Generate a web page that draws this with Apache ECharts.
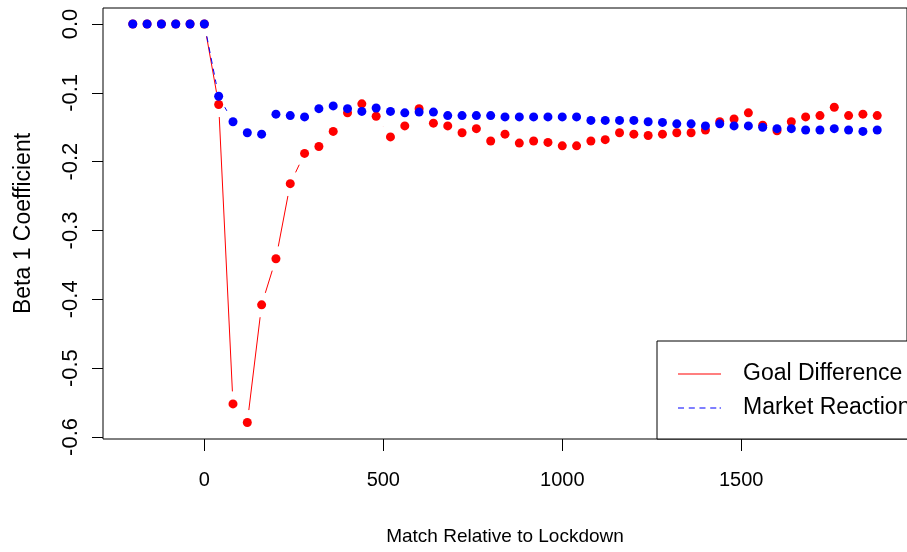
<!DOCTYPE html>
<html><head><meta charset="utf-8">
<script src="https://cdn.jsdelivr.net/npm/echarts@6/dist/echarts.min.js"></script>
<style>html,body{margin:0;padding:0;background:#fff}#c{width:907px;height:552px}</style>
</head><body><div id="c"></div>
<script>
// ---- data ----
const matchRel = [-200,-160,-120,-80,-40,0,40,80,120,160,200,240,280,320,360,400,440,480,520,560,600,640,680,720,760,800,840,880,920,960,1000,1040,1080,1120,1160,1200,1240,1280,1320,1360,1400,1440,1480,1520,1560,1600,1640,1680,1720,1760,1800,1840,1880];
const goalDiff = [0,0,0,0,0,0,
  -0.117,-0.552,-0.579,-0.408,-0.341,-0.232,-0.188,-0.178,-0.156,-0.129,
  -0.116,-0.134,-0.164,-0.148,-0.123,-0.144,-0.148,-0.158,-0.152,-0.170,
  -0.160,-0.173,-0.170,-0.172,-0.177,-0.177,-0.170,-0.168,-0.158,-0.160,
  -0.162,-0.160,-0.158,-0.158,-0.154,-0.142,-0.138,-0.129,-0.147,-0.155,
  -0.142,-0.135,-0.133,-0.121,-0.133,-0.131,-0.133];
const marketReaction = [0,0,0,0,0,0,
  -0.105,-0.142,-0.158,-0.160,-0.131,-0.133,-0.135,-0.123,-0.119,-0.123,
  -0.127,-0.122,-0.127,-0.129,-0.128,-0.128,-0.133,-0.133,-0.133,-0.133,
  -0.135,-0.135,-0.135,-0.135,-0.135,-0.135,-0.140,-0.140,-0.140,-0.140,
  -0.142,-0.143,-0.145,-0.145,-0.148,-0.145,-0.148,-0.148,-0.150,-0.152,
  -0.152,-0.154,-0.154,-0.152,-0.154,-0.156,-0.154];
const xTicks = [0,500,1000,1500];
const yTicks = [0,-0.1,-0.2,-0.3,-0.4,-0.5,-0.6];
const seriesNames = ['Goal Difference','Market Reaction'];
const xTitle = 'Match Relative to Lockdown';
const yTitle = 'Beta 1 Coefficient';

// ---- font check ----
function hasFont(name){
  const c=document.createElement('canvas').getContext('2d');
  c.font='40px monospace'; const w0=c.measureText('Match Relative 1000').width;
  c.font='40px "'+name+'", monospace'; return Math.abs(c.measureText('Match Relative 1000').width-w0)>0.5;
}
const narrow = hasFont('Liberation Sans Narrow');
const xFont = narrow ? 'Liberation Sans Narrow' : 'Liberation Sans';
const xLabSize = narrow ? 23 : 20;
const xNameSize = narrow ? 23 : 19;

function pairs(ys){ return matchRel.map((x,i)=>[x,ys[i]]); }
function segs(ys){ const d=[]; for(let i=0;i<matchRel.length-1;i++) d.push([matchRel[i],ys[i],matchRel[i+1],ys[i+1]]); return d; }
function gapRender(color,dash){
  return function(params,api){
    const p0=api.coord([api.value(0),api.value(1)]), p1=api.coord([api.value(2),api.value(3)]);
    const dx=p1[0]-p0[0], dy=p1[1]-p0[1], L=Math.hypot(dx,dy), g=12.5;
    if(L<=2*g) return {type:'group',children:[]};
    const ux=dx/L, uy=dy/L;
    return {type:'line',silent:true,
      shape:{x1:p0[0]+ux*g,y1:p0[1]+uy*g,x2:p1[0]-ux*g,y2:p1[1]-uy*g},
      style:{stroke:color,lineWidth:1,lineDash:dash,fill:null}};
  };
}

const chart = echarts.init(document.getElementById('c'),null,{renderer:'canvas'});
chart.setOption({
  animation:false,
  backgroundColor:'#fff',
  grid:{left:103,right:-12,top:8,bottom:113,show:true,borderColor:'#000',borderWidth:1,backgroundColor:'transparent'},
  xAxis:{type:'value',min:-283.2,max:1963.2,
    axisLine:{show:false,onZero:false},
    splitLine:{show:false},
    axisTick:{show:true,length:12,inside:false,customValues:xTicks,lineStyle:{color:'#000',width:1}},
    axisLabel:{customValues:xTicks,margin:31,color:'#000',fontFamily:xFont,fontSize:xLabSize,formatter:v=>String(v)},
    name:xTitle,nameLocation:'middle',nameGap:88,
    nameTextStyle:{color:'#000',fontFamily:xFont,fontSize:xNameSize}
  },
  yAxis:{type:'value',min:-0.603,max:0.0233,
    axisLine:{show:false,onZero:false},
    splitLine:{show:false},
    axisTick:{show:true,length:11,inside:false,customValues:yTicks,lineStyle:{color:'#000',width:1}},
    axisLabel:{customValues:yTicks,rotate:90,margin:21,color:'#000',fontFamily:'Liberation Sans',fontSize:22,
      formatter:v=>Number(v).toFixed(1)},
    name:yTitle,nameLocation:'middle',nameRotate:90,nameGap:68,
    nameTextStyle:{color:'#000',fontFamily:'Liberation Sans',fontSize:23}
  },
  legend:{
    orient:'vertical',left:657,top:341,
    data:[{name:seriesNames[0],icon:'path://M0,0H42.7V1H0Z'},
          {name:seriesNames[1],icon:'path://M0,0h6v1h-6zM10.7,0h6v1h-6zM21.3,0h6v1h-6zM32,0h6v1h-6zM41.3,0h1.4v1h-1.4z'}],
    itemWidth:43,itemHeight:1.2,itemGap:10,
    padding:[21,20,19,21],
    borderColor:'#000',borderWidth:1,backgroundColor:'#fff',
    selectedMode:false,
    textStyle:{fontFamily:'Liberation Sans',fontSize:23,lineHeight:24,color:'#000',padding:[0,0,0,17]}
  },
  series:[
    {name:seriesNames[0],type:'custom',color:'#ff0000',itemStyle:{color:'#ff0000'},
      renderItem:gapRender('#ff0000',null),encode:{x:[0,2],y:[1,3]},data:segs(goalDiff),z:2},
    {name:seriesNames[1],type:'custom',color:'#0000ff',itemStyle:{color:'#0000ff'},
      renderItem:gapRender('#0000ff',[6,5]),encode:{x:[0,2],y:[1,3]},data:segs(marketReaction),z:2},
    {name:'gd-pts',type:'scatter',symbol:'circle',symbolSize:9,itemStyle:{color:'#ff0000',opacity:1},data:pairs(goalDiff),z:3,silent:true},
    {name:'mr-pts',type:'scatter',symbol:'circle',symbolSize:9,itemStyle:{color:'#0000ff',opacity:1},data:pairs(marketReaction),z:4,silent:true}
  ]
});
</script></body></html>
